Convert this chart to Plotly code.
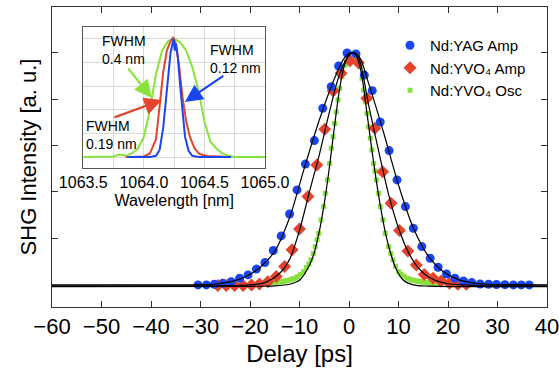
import plotly.graph_objects as go

# ---------------- data: autocorrelation traces (delay in ps, normalized SHG) ----------------
yag_amp_t = [-30.5, -28.8, -27.2, -25.5, -23.8, -22.1, -20.4, -18.7, -17.0, -15.3,
             -13.7, -12.0, -10.5, -8.8, -7.0, -5.3, -3.6, -2.1, -0.4, 1.4,
             3.1, 4.7, 6.3, 8.1, 9.7, 11.4, 13.0, 14.7, 16.4, 18.0,
             19.7, 21.4, 23.1, 24.8, 26.5, 28.2, 29.8, 31.5, 33.2, 34.8, 36.4]
yag_amp_v = [0.0, 0.0, 0.003, 0.007, 0.014, 0.029, 0.043, 0.068, 0.096, 0.148,
             0.211, 0.305, 0.409, 0.520, 0.621, 0.760, 0.853, 0.942, 0.998, 0.994,
             0.903, 0.836, 0.701, 0.578, 0.452, 0.337, 0.244, 0.165, 0.115, 0.076,
             0.047, 0.029, 0.017, 0.010, 0.004, 0.003, 0.002, 0.001, 0.0, 0.0, 0.0]

yvo_amp_t = [-26.5, -24.8, -23.1, -21.4, -19.7, -18.1, -16.4, -14.7, -13.0, -11.5,
             -10.0, -8.3, -6.5, -4.9, -3.2, -1.6, 0.2, 1.9, 3.6, 5.2,
             6.8, 8.5, 10.2, 11.9, 13.6, 15.2, 17.0, 18.6, 20.3, 22.0, 23.7]
yvo_amp_v = [-0.003, -0.003, -0.003, -0.002, 0.0, 0.004, 0.014, 0.036, 0.079, 0.151,
             0.241, 0.380, 0.516, 0.670, 0.836, 0.911, 0.965, 0.956, 0.803, 0.674,
             0.487, 0.351, 0.234, 0.146, 0.086, 0.045, 0.029, 0.017, 0.007, 0.003, 0.003]

yvo_osc_t = [-17.6, -17.2, -16.8, -16.4, -16.0, -15.6, -15.2, -14.8, -14.4, -14.0,
             -13.6, -13.2, -12.8, -12.4, -12.0, -11.6, -11.2,
             -10.85, -10.4, -9.8, -9.17, -8.6, -8.1, -7.68, -7.2, -6.81, -6.45,
             -6.14, -5.66, -5.13, -4.79, -4.32, -3.92, -3.58, -3.23, -2.91, -2.57,
             -2.22, -1.90, -1.41, -0.75, -0.28,
             0.2, 0.61, 1.0, 1.5, 1.9,
             2.28, 2.63, 2.95, 3.29, 3.64, 3.96, 4.30, 4.63, 4.97, 5.25,
             5.52, 5.98, 6.32, 6.87, 7.33, 8.00, 8.45, 8.89, 9.4, 10.02,
             10.5, 11.1, 11.72,
             12.2, 12.6, 13.0, 13.4, 13.8, 14.2, 14.6, 15.0, 15.4, 15.8,
             16.2, 16.6, 17.0, 17.4, 17.8, 18.2]
yvo_osc_v = [0.006, 0.007, 0.007, 0.008, 0.009, 0.010, 0.010, 0.011, 0.012, 0.013,
             0.014, 0.016, 0.017, 0.019, 0.021, 0.024, 0.027,
             0.029, 0.036, 0.045, 0.057, 0.075, 0.090, 0.108, 0.135, 0.165, 0.195,
             0.222, 0.280, 0.337, 0.394, 0.452, 0.523, 0.588, 0.638, 0.695, 0.745,
             0.796, 0.846, 0.896, 0.946, 0.989,
             0.996, 0.997, 0.995, 0.980, 0.960,
             0.939, 0.889, 0.839, 0.788, 0.738, 0.681, 0.631, 0.581, 0.523, 0.490,
             0.452, 0.394, 0.337, 0.280, 0.222, 0.165, 0.135, 0.108, 0.080, 0.057,
             0.045, 0.037, 0.029,
             0.025, 0.022, 0.020, 0.018, 0.016, 0.015, 0.013, 0.012, 0.011, 0.010,
             0.009, 0.008, 0.008, 0.007, 0.006, 0.006]

# fitted curves (black lines)
fit_yag_t = [-60, -35, -30, -27, -24, -21, -18, -15, -12, -9, -6, -3, -1, 0.5, 2, 4,
             7, 10, 13, 16, 19, 22, 25, 28, 32, 40]
fit_yag_v = [0.0, 0.0, 0.001, 0.004, 0.013, 0.034, 0.075, 0.145, 0.29, 0.505, 0.71, 0.885,
             0.975, 1.0, 0.985, 0.865, 0.655, 0.43, 0.245, 0.125, 0.058, 0.024, 0.009,
             0.003, 0.001, 0.0]
fit_amp_t = [-60, -30, -24, -20, -17, -14, -12, -10, -8, -6, -4, -2, 0, 1, 2, 4, 6, 8,
             10, 12, 14, 16, 18, 20, 23, 28, 40]
fit_amp_v = [-0.004, -0.004, -0.003, 0.0, 0.01, 0.05, 0.11, 0.235, 0.4, 0.56, 0.74, 0.9,
             0.99, 1.0, 0.975, 0.77, 0.575, 0.39, 0.245, 0.14, 0.073, 0.035, 0.015,
             0.005, 0.0, -0.004, -0.004]
fit_osc_t = [-60, -20, -15, -12, -10, -8, -7, -6, -5, -4, -3, -2, -1, 0, 0.7, 1.5, 2.5,
             3.5, 4.5, 5.5, 6.5, 7.5, 8.5, 9.5, 11, 13, 16, 40]
fit_osc_v = [-0.007, -0.006, -0.004, 0.003, 0.02, 0.085, 0.14, 0.23, 0.35, 0.5, 0.67,
             0.83, 0.94, 0.99, 1.0, 0.985, 0.91, 0.76, 0.6, 0.45, 0.32, 0.21, 0.13,
             0.07, 0.02, 0.0, -0.005, -0.007]

# inset spectra (wavelength in nm, normalized)
osc_wl = [1063.50, 1063.60, 1063.70, 1063.75, 1063.80, 1063.85, 1063.90, 1063.95, 1064.00,
          1064.05, 1064.10, 1064.15, 1064.20, 1064.25, 1064.30, 1064.35, 1064.40, 1064.45,
          1064.50, 1064.55, 1064.60, 1064.65, 1064.70, 1064.75, 1064.85, 1065.00]
osc_s = [0.0, 0.0, 0.0, 0.005, 0.02, 0.01, 0.03, 0.07, 0.17, 0.40, 0.70, 0.90, 0.98, 1.0,
         0.97, 0.90, 0.76, 0.57, 0.30, 0.13, 0.07, 0.03, 0.01, 0.0, 0.0, 0.0]
amp_wl = [1063.85, 1064.00, 1064.05, 1064.10, 1064.13, 1064.16, 1064.19, 1064.22, 1064.24,
          1064.26, 1064.29, 1064.32, 1064.35, 1064.38, 1064.42, 1064.46, 1064.52, 1064.70]
amp_s = [0.0, 0.005, 0.03, 0.15, 0.43, 0.72, 0.90, 0.98, 1.01, 0.97, 0.78, 0.50, 0.30,
         0.17, 0.07, 0.025, 0.008, 0.0]
yag_wl = [1063.87, 1064.05, 1064.10, 1064.13, 1064.16, 1064.19, 1064.22, 1064.245, 1064.255,
          1064.265, 1064.28, 1064.30, 1064.32, 1064.34, 1064.37, 1064.40, 1064.45, 1064.72]
yag_s = [0.0, 0.0, 0.01, 0.06, 0.25, 0.60, 0.88, 1.0, 0.90, 0.96, 0.85, 0.60, 0.38, 0.17,
         0.05, 0.01, 0.0, 0.0]

delay_ticks = [-60, -50, -40, -30, -20, -10, 0, 10, 20, 30, 40]
wl_ticks = [1063.5, 1063.75, 1064.0, 1064.25, 1064.5, 1064.75, 1065.0]
wl_labels = ["1063.5", "", "1064.0", "", "1064.5", "", "1065.0"]

BLUE = "#1846F2"
RED = "#E4442B"
GREEN = "#88E23C"
FONT = "Liberation Sans, Arial, Helvetica, sans-serif"

fig = go.Figure()

# markers (green drawn first, blue on top)
fig.add_trace(go.Scatter(x=yvo_osc_t, y=yvo_osc_v, mode="markers", name="Nd:YVO\u2084 Osc",
                         marker=dict(symbol="square", size=5, color=GREEN), legendrank=3))
fig.add_trace(go.Scatter(x=yvo_amp_t, y=yvo_amp_v, mode="markers", name="Nd:YVO\u2084 Amp",
                         marker=dict(symbol="diamond", size=10, color=RED), legendrank=2))
fig.add_trace(go.Scatter(x=yag_amp_t, y=yag_amp_v, mode="markers", name="Nd:YAG Amp",
                         marker=dict(symbol="circle", size=9, color=BLUE), legendrank=1))

for t, v in [(fit_yag_t, fit_yag_v), (fit_amp_t, fit_amp_v), (fit_osc_t, fit_osc_v)]:
    fig.add_trace(go.Scatter(x=t, y=v, mode="lines", showlegend=False,
                             line=dict(color="black", width=1.2, shape="spline", smoothing=0.8)))

# inset spectra
for wl, s, c in [(osc_wl, osc_s, GREEN), (amp_wl, amp_s, RED), (yag_wl, yag_s, BLUE)]:
    fig.add_trace(go.Scatter(x=wl, y=s, mode="lines", showlegend=False, xaxis="x2", yaxis="y2",
                             line=dict(color=c, width=2)))

L, R, T, B = 52, 12, 7, 63
W, H = 559, 370
pw, ph = W - L - R, H - T - B
def px_x(p):
    return (p - L) / pw
def px_y(p):
    return (H - B - p) / ph

fig.update_layout(
    width=W, height=H,
    margin=dict(l=L, r=R, t=T, b=B, pad=0, autoexpand=False),
    paper_bgcolor="white", plot_bgcolor="white",
    font=dict(family=FONT, color="black"),
    xaxis=dict(range=[-60, 40], tickvals=delay_ticks, automargin=False,
               ticklabeloverflow="allow",
               ticktext=[("\u2212" + str(-v)) if v < 0 else str(v) for v in delay_ticks],
               tickfont=dict(size=22), ticks="inside", ticklen=6, tickcolor="#333",
               showline=True, linecolor="#333", linewidth=1, mirror="ticks",
               showgrid=False, zeroline=False,
               title=dict(text="Delay [ps]", font=dict(size=24), standoff=6)),
    yaxis=dict(range=[-0.095, 1.196], tickvals=[0, 0.2, 0.4, 0.6, 0.8, 1.0, 1.2],
               automargin=False,
               showticklabels=False, ticks="inside", ticklen=6, tickcolor="#333",
               showline=True, linecolor="#333", linewidth=1, mirror="ticks",
               showgrid=False, zeroline=False,
               title=dict(text="SHG Intensity [a. u.]", font=dict(size=22), standoff=8)),
    xaxis2=dict(domain=[px_x(83.3), px_x(265)], anchor="y2", range=[1063.5, 1065.0],
                automargin=False, ticklabeloverflow="allow",
                tickvals=wl_ticks, ticktext=wl_labels, tickfont=dict(size=16),
                ticks="", showline=True, linecolor="#555", linewidth=1, mirror=True,
                showgrid=True, gridcolor="#d9d9d9", gridwidth=1, zeroline=False,
                title=dict(text="Wavelength [nm]", font=dict(size=16), standoff=4)),
    yaxis2=dict(domain=[px_y(168), px_y(27)], anchor="x2", range=[-0.093, 1.1],
                automargin=False,
                tickvals=[0, 0.2, 0.4, 0.6, 0.8, 1.0], showticklabels=False, ticks="",
                showline=True, linecolor="#555", linewidth=1, mirror=True,
                showgrid=True, gridcolor="#d9d9d9", gridwidth=1, zeroline=False),
    legend=dict(x=px_x(390), y=px_y(29), xanchor="left", yanchor="top",
                font=dict(size=15), bgcolor="rgba(0,0,0,0)", tracegroupgap=0,
                itemwidth=30),
    showlegend=True,
)

ann = []
def txt(x, y, s):
    ann.append(dict(x=x, y=y, xref="x2", yref="y2", text=s, showarrow=False,
                    xanchor="left", yanchor="middle", align="left",
                    font=dict(size=14, family=FONT)))
def wl_of(p):
    return 1063.5 + (p - 83.3) / 121.3
def sv_of(p):
    return (157 - p) / 118.0

txt(wl_of(100), sv_of(50), "FWHM<br>0.4 nm")
txt(wl_of(208), sv_of(59), "FWHM<br>0.12 nm")
txt(wl_of(84), sv_of(135), "FWHM<br>0.19 nm")

for (hx, hy, tx, ty, c) in [(152, 98, 127, 67, GREEN), (162, 100, 113, 118, RED),
                            (185, 102, 225, 75, BLUE)]:
    ann.append(dict(x=wl_of(hx), y=sv_of(hy), ax=wl_of(tx), ay=sv_of(ty),
                    xref="x2", yref="y2", axref="x2", ayref="y2", text="",
                    showarrow=True, arrowhead=2, arrowsize=1.6, arrowwidth=2.2,
                    arrowcolor=c, standoff=0))
fig.update_layout(annotations=ann)

fig.write_html("out.html", config={"displayModeBar": False},
               post_script="document.body.style.margin='0';document.body.style.overflow='hidden';")
